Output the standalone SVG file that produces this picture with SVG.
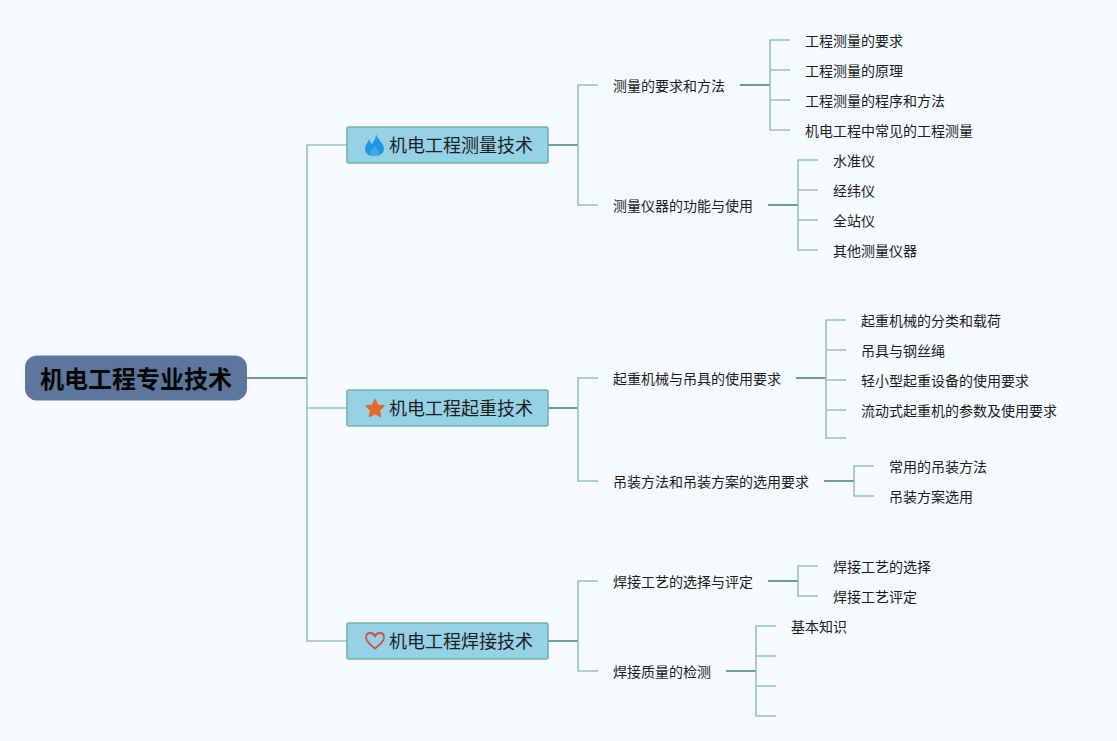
<svg xmlns="http://www.w3.org/2000/svg" width="1117" height="741" viewBox="0 0 1117 741">
<style>
text{font-family:"Noto Sans CJK SC","Liberation Sans",sans-serif;fill:#1c1c1c}
.t{font-size:14px}
.m{font-size:18px}
.r{font-size:24px;font-weight:700;fill:#060606}
.l{fill:none;stroke:#96c2b9;stroke-width:1.6}
.d{fill:none;stroke:#6a9f90;stroke-width:1.9}
.n{fill:#95d2e6;stroke:#78b0ac;stroke-width:1.6}
</style>
<rect width="1117" height="741" fill="#f5faff"/>
<g id="connectors">
<path class="l" d="M347 145H307V641H347M307 408H347"/>
<path class="d" d="M247 378H307"/>
<path class="d" d="M548 145H578M548 408H578M548 641H578"/>
<path class="l" d="M598 85H578V205H598"/>
<path class="l" d="M598 378H578V481H598"/>
<path class="l" d="M598 581H578V671H598"/>
<path class="d" d="M740 85H770M768 205H798M796 378H826M824 481H854M768 581H798M726 671H756"/>
<path class="l" d="M790 40H770V130H790M770 70H790M770 100H790"/>
<path class="l" d="M818 160H798V250H818M798 190H818M798 220H818"/>
<path class="l" d="M846 320H826V438H846M826 350H846M826 380H846M826 410H846"/>
<path class="l" d="M874 466H854V496H874"/>
<path class="l" d="M818 566H798V596H818"/>
<path class="l" d="M776 626H756V716H776M756 656H776M756 686H776"/>
</g>
<g id="root"><rect x="25" y="355.500" width="222" height="45" rx="12" fill="#5d769d"/><text class="r" x="40" y="388">机电工程专业技术</text></g>
<g id="n1"><rect class="n" x="347" y="127" width="201" height="36" rx="2"/>
<path fill="#2196e6" d="M376 134C377 139 384 143 384 149C384 153 380 156 374 156C368 156 365 153 365 149C365 145 368 143 369 139C370 142 371 143 372 144C374 141 376 138 376 134Z"/>
<path fill="#6cbce8" d="M375 146C376 149 379 150 379 152C379 155 376 156 374.500 156C372 156 370 155 370 152C370 150 374 149 375 146Z" opacity=".5"/>
<text class="m" x="389" y="152">机电工程测量技术</text></g>
<g id="n2"><rect class="n" x="347" y="390" width="201" height="36" rx="2"/>
<path fill="#e6682f" stroke="#e6682f" stroke-width="1.500" stroke-linejoin="round" d="M375 399.500L377.600 405.300L384 406L379.300 410.300L380.600 416.500L375 413.300L369.400 416.500L370.700 410.300L366 406L372.400 405.300Z"/>
<text class="m" x="389" y="415">机电工程起重技术</text></g>
<g id="n3"><rect class="n" x="347" y="623" width="201" height="36" rx="2"/>
<path fill="none" stroke="#c9544c" stroke-width="1.800" d="M375 648.500C370 644.500 366 641.500 366 637.500C366 634.500 368 633 370.300 633C372.300 633 374 634 375 636C376 634 377.700 633 379.700 633C382 633 384 634.500 384 637.500C384 641.500 380 644.500 375 648.500Z"/>
<text class="m" x="389" y="648">机电工程焊接技术</text></g>
<g id="a1"><text class="t" x="613" y="91">测量的要求和方法</text></g>
<g id="a2"><text class="t" x="613" y="211">测量仪器的功能与使用</text></g>
<g id="b1"><text class="t" x="613" y="384">起重机械与吊具的使用要求</text></g>
<g id="b2"><text class="t" x="613" y="487">吊装方法和吊装方案的选用要求</text></g>
<g id="c1"><text class="t" x="613" y="587">焊接工艺的选择与评定</text></g>
<g id="c2"><text class="t" x="613" y="677">焊接质量的检测</text></g>
<g id="a11"><text class="t" x="805" y="46">工程测量的要求</text></g>
<g id="a12"><text class="t" x="805" y="76">工程测量的原理</text></g>
<g id="a13"><text class="t" x="805" y="106">工程测量的程序和方法</text></g>
<g id="a14"><text class="t" x="805" y="136">机电工程中常见的工程测量</text></g>
<g id="a21"><text class="t" x="833" y="166">水准仪</text></g>
<g id="a22"><text class="t" x="833" y="196">经纬仪</text></g>
<g id="a23"><text class="t" x="833" y="226">全站仪</text></g>
<g id="a24"><text class="t" x="833" y="256">其他测量仪器</text></g>
<g id="b11"><text class="t" x="861" y="326">起重机械的分类和载荷</text></g>
<g id="b12"><text class="t" x="861" y="356">吊具与钢丝绳</text></g>
<g id="b13"><text class="t" x="861" y="386">轻小型起重设备的使用要求</text></g>
<g id="b14"><text class="t" x="861" y="416">流动式起重机的参数及使用要求</text></g>
<g id="b21"><text class="t" x="889" y="472">常用的吊装方法</text></g>
<g id="b22"><text class="t" x="889" y="502">吊装方案选用</text></g>
<g id="c11"><text class="t" x="833" y="572">焊接工艺的选择</text></g>
<g id="c12"><text class="t" x="833" y="602">焊接工艺评定</text></g>
<g id="c21"><text class="t" x="791" y="632">基本知识</text></g>
</svg>
